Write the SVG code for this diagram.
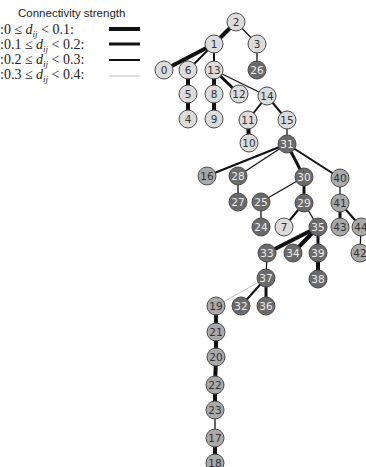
<svg xmlns="http://www.w3.org/2000/svg" width="366" height="467" viewBox="0 0 366 467">
  <style>
    .bg { fill: #ffffff; }
    .node circle { stroke: #4a4a4a; stroke-width: 1; }
    .lt circle { fill: #dcdcdc; }
    .md circle { fill: #a9a9a9; }
    .dk circle { fill: #6a6a6a; }
    .node text { font-family: "DejaVu Sans", "Liberation Sans", sans-serif; font-size: 10.5px; text-anchor: middle; dominant-baseline: central; }
    .lt text, .md text { fill: #333333; }
    .dk text { fill: #eeeeee; }
    .e { stroke: #111111; stroke-linecap: butt; fill: none; }
    .w4 { stroke-width: 4; }
    .w3 { stroke-width: 3; }
    .w2 { stroke-width: 2; }
    .w1 { stroke-width: 1.3; }
    .w0 { stroke-width: 0.8; stroke: #b0b0b0; }
    .legend text { font-family: "Liberation Serif", "Times New Roman", serif; font-size: 14px; fill: #222222; }
    .legend .title { font-family: "Liberation Sans", Arial, sans-serif; font-size: 11.5px; }
    .sub { font-style: italic; font-size: 9px; }
  </style>

  <rect class="bg" x="0" y="0" width="366" height="467"/>

  <!-- legend -->
  <g id="legend" class="legend">
    <text class="title" x="18" y="17">Connectivity strength</text>
    <text x="0" y="34">:0 ≤ <tspan font-style="italic">d</tspan><tspan class="sub" dy="2.5">ij</tspan><tspan dy="-2.5"> &lt; 0.1:</tspan></text>
    <text x="0" y="49">:0.1 ≤ <tspan font-style="italic">d</tspan><tspan class="sub" dy="2.5">ij</tspan><tspan dy="-2.5"> &lt; 0.2:</tspan></text>
    <text x="0" y="64">:0.2 ≤ <tspan font-style="italic">d</tspan><tspan class="sub" dy="2.5">ij</tspan><tspan dy="-2.5"> &lt; 0.3:</tspan></text>
    <text x="0" y="79">:0.3 ≤ <tspan font-style="italic">d</tspan><tspan class="sub" dy="2.5">ij</tspan><tspan dy="-2.5"> &lt; 0.4:</tspan></text>
    <line class="e w4" x1="109" y1="29" x2="140" y2="29"/>
    <line class="e w3" x1="109" y1="44" x2="140" y2="44"/>
    <line class="e w2" x1="109" y1="60" x2="140" y2="60"/>
    <line class="e w0" x1="109" y1="76" x2="140" y2="76"/>
  </g>

  <!-- connectors -->
  <g id="edges">
    <line class="e w4" x1="236" y1="22" x2="214" y2="44"/>
    <line class="e w1" x1="236" y1="22" x2="257" y2="44"/>
    <line class="e w4" x1="214" y1="44" x2="164" y2="70"/>
    <line class="e w2" x1="214" y1="44" x2="188" y2="70"/>
    <line class="e w2" x1="214" y1="44" x2="214" y2="70"/>
    <line class="e w1" x1="257" y1="44" x2="257" y2="70"/>
    <line class="e w4" x1="188" y1="70" x2="188" y2="94"/>
    <line class="e w4" x1="188" y1="94" x2="188" y2="119"/>
    <line class="e w4" x1="214" y1="70" x2="214" y2="94"/>
    <line class="e w4" x1="214" y1="94" x2="214" y2="119"/>
    <line class="e w3" x1="214" y1="70" x2="239" y2="94"/>
    <line class="e w1" x1="214" y1="70" x2="267" y2="96"/>
    <line class="e w2" x1="267" y1="96" x2="248" y2="120"/>
    <line class="e w2" x1="267" y1="96" x2="287" y2="120"/>
    <line class="e w4" x1="248" y1="120" x2="249" y2="143"/>
    <line class="e w1" x1="287" y1="120" x2="287" y2="144"/>
    <line class="e w2" x1="287" y1="144" x2="207" y2="176"/>
    <line class="e w1" x1="287" y1="144" x2="238" y2="176"/>
    <line class="e w3" x1="287" y1="144" x2="304" y2="177"/>
    <line class="e w2" x1="287" y1="144" x2="340" y2="178"/>
    <line class="e w1" x1="238" y1="176" x2="238" y2="202"/>
    <line class="e w1" x1="304" y1="177" x2="261" y2="202"/>
    <line class="e w3" x1="304" y1="177" x2="304" y2="203"/>
    <line class="e w1" x1="340" y1="178" x2="340" y2="203"/>
    <line class="e w1" x1="261" y1="202" x2="261" y2="227"/>
    <line class="e w2" x1="304" y1="203" x2="284" y2="227"/>
    <line class="e w1" x1="304" y1="203" x2="318" y2="227"/>
    <line class="e w3" x1="340" y1="203" x2="340" y2="227"/>
    <line class="e w2" x1="340" y1="203" x2="361" y2="227"/>
    <line class="e w1" x1="361" y1="227" x2="360" y2="253"/>
    <line class="e w4" x1="318" y1="227" x2="267" y2="253"/>
    <line class="e w4" x1="318" y1="227" x2="293" y2="253"/>
    <line class="e w3" x1="318" y1="227" x2="318" y2="253"/>
    <line class="e w4" x1="318" y1="253" x2="318" y2="279"/>
    <line class="e w1" x1="267" y1="253" x2="266" y2="278"/>
    <line class="e w0" x1="266" y1="278" x2="216" y2="306"/>
    <line class="e w2" x1="266" y1="278" x2="241" y2="306"/>
    <line class="e w3" x1="266" y1="278" x2="266" y2="306"/>
    <line class="e w4" x1="216" y1="306" x2="216" y2="332"/>
    <line class="e w4" x1="216" y1="332" x2="216" y2="357"/>
    <line class="e w4" x1="216" y1="357" x2="215" y2="385"/>
    <line class="e w4" x1="215" y1="385" x2="215" y2="410"/>
    <line class="e w1" x1="215" y1="410" x2="215" y2="438"/>
    <line class="e w4" x1="215" y1="438" x2="215" y2="463"/>
  </g>

  <!-- nodes -->
  <g id="n2" class="node lt"><circle cx="236" cy="22" r="9"/><text x="236" y="22">2</text></g>
  <g id="n1" class="node lt"><circle cx="214" cy="44" r="9"/><text x="214" y="44">1</text></g>
  <g id="n3" class="node lt"><circle cx="257" cy="44" r="9"/><text x="257" y="44">3</text></g>
  <g id="n0" class="node lt"><circle cx="164" cy="70" r="9"/><text x="164" y="70">0</text></g>
  <g id="n6" class="node lt"><circle cx="188" cy="70" r="9"/><text x="188" y="70">6</text></g>
  <g id="n13" class="node lt"><circle cx="214" cy="70" r="9"/><text x="214" y="70">13</text></g>
  <g id="n26" class="node dk"><circle cx="257" cy="70" r="9"/><text x="257" y="70">26</text></g>
  <g id="n5" class="node lt"><circle cx="188" cy="94" r="9"/><text x="188" y="94">5</text></g>
  <g id="n8" class="node lt"><circle cx="214" cy="94" r="9"/><text x="214" y="94">8</text></g>
  <g id="n12" class="node lt"><circle cx="239" cy="94" r="9"/><text x="239" y="94">12</text></g>
  <g id="n14" class="node lt"><circle cx="267" cy="96" r="9"/><text x="267" y="96">14</text></g>
  <g id="n4" class="node lt"><circle cx="188" cy="119" r="9"/><text x="188" y="119">4</text></g>
  <g id="n9" class="node lt"><circle cx="214" cy="119" r="9"/><text x="214" y="119">9</text></g>
  <g id="n11" class="node lt"><circle cx="248" cy="120" r="9"/><text x="248" y="120">11</text></g>
  <g id="n15" class="node lt"><circle cx="287" cy="120" r="9"/><text x="287" y="120">15</text></g>
  <g id="n10" class="node lt"><circle cx="249" cy="143" r="9"/><text x="249" y="143">10</text></g>
  <g id="n31" class="node dk"><circle cx="287" cy="144" r="9"/><text x="287" y="144">31</text></g>
  <g id="n16" class="node md"><circle cx="207" cy="176" r="9"/><text x="207" y="176">16</text></g>
  <g id="n28" class="node dk"><circle cx="238" cy="176" r="9"/><text x="238" y="176">28</text></g>
  <g id="n30" class="node dk"><circle cx="304" cy="177" r="9"/><text x="304" y="177">30</text></g>
  <g id="n40" class="node md"><circle cx="340" cy="178" r="9"/><text x="340" y="178">40</text></g>
  <g id="n27" class="node dk"><circle cx="238" cy="202" r="9"/><text x="238" y="202">27</text></g>
  <g id="n25" class="node dk"><circle cx="261" cy="202" r="9"/><text x="261" y="202">25</text></g>
  <g id="n29" class="node dk"><circle cx="304" cy="203" r="9"/><text x="304" y="203">29</text></g>
  <g id="n41" class="node md"><circle cx="340" cy="203" r="9"/><text x="340" y="203">41</text></g>
  <g id="n24" class="node dk"><circle cx="261" cy="227" r="9"/><text x="261" y="227">24</text></g>
  <g id="n7" class="node lt"><circle cx="284" cy="227" r="9"/><text x="284" y="227">7</text></g>
  <g id="n35" class="node dk"><circle cx="318" cy="227" r="9"/><text x="318" y="227">35</text></g>
  <g id="n43" class="node md"><circle cx="340" cy="227" r="9"/><text x="340" y="227">43</text></g>
  <g id="n44" class="node md"><circle cx="361" cy="227" r="9"/><text x="361" y="227">44</text></g>
  <g id="n33" class="node dk"><circle cx="267" cy="253" r="9"/><text x="267" y="253">33</text></g>
  <g id="n34" class="node dk"><circle cx="293" cy="253" r="9"/><text x="293" y="253">34</text></g>
  <g id="n39" class="node dk"><circle cx="318" cy="253" r="9"/><text x="318" y="253">39</text></g>
  <g id="n42" class="node md"><circle cx="360" cy="253" r="9"/><text x="360" y="253">42</text></g>
  <g id="n38" class="node dk"><circle cx="318" cy="279" r="9"/><text x="318" y="279">38</text></g>
  <g id="n37" class="node dk"><circle cx="266" cy="278" r="9"/><text x="266" y="278">37</text></g>
  <g id="n19" class="node md"><circle cx="216" cy="306" r="9"/><text x="216" y="306">19</text></g>
  <g id="n32" class="node dk"><circle cx="241" cy="306" r="9"/><text x="241" y="306">32</text></g>
  <g id="n36" class="node dk"><circle cx="266" cy="306" r="9"/><text x="266" y="306">36</text></g>
  <g id="n21" class="node md"><circle cx="216" cy="332" r="9"/><text x="216" y="332">21</text></g>
  <g id="n20" class="node md"><circle cx="216" cy="357" r="9"/><text x="216" y="357">20</text></g>
  <g id="n22" class="node md"><circle cx="215" cy="385" r="9"/><text x="215" y="385">22</text></g>
  <g id="n23" class="node md"><circle cx="215" cy="410" r="9"/><text x="215" y="410">23</text></g>
  <g id="n17" class="node md"><circle cx="215" cy="438" r="9"/><text x="215" y="438">17</text></g>
  <g id="n18" class="node md"><circle cx="215" cy="463" r="9"/><text x="215" y="463">18</text></g>
</svg>
